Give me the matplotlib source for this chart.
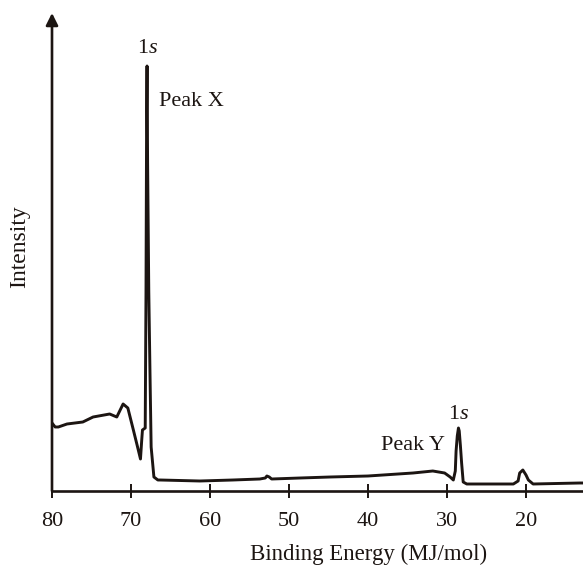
import matplotlib
matplotlib.use("Agg")
import matplotlib.pyplot as plt

plt.rcParams['font.family'] = ['Liberation Serif', 'DejaVu Serif']
plt.rcParams['mathtext.fontset'] = 'custom'
plt.rcParams['mathtext.rm'] = 'Liberation Serif'
plt.rcParams['mathtext.it'] = 'Liberation Serif:italic'

# Binding energy (MJ/mol) and intensity (arbitrary units)
energy = [80, 79.6, 79.2, 78.1, 76.1, 74.8, 72.7, 71.8, 71.0, 70.4, 69.7, 69.2,
          68.8, 68.65, 68.55, 68.2, 68.1, 68.02, 67.97, 67.9, 67.75, 67.6, 67.45,
          67.1, 66.6, 66.3, 61.3, 57.1, 53.7, 53.0, 52.8, 52.5, 52.2, 48.6, 44.8,
          40.0, 34.3, 31.8, 30.3, 29.6, 29.2, 28.95, 28.85, 28.7, 28.55, 28.45,
          28.3, 28.15, 27.95, 27.5, 21.6, 21.0, 20.8, 20.4, 20.0, 19.7, 19.1,
          13.2, 12.8]
intensity = [68, 64, 64, 67, 69, 74, 77, 74, 87, 83, 61, 45,
             32, 50, 61, 63, 200, 380, 425, 330, 200, 120, 44,
             14, 11, 11, 10, 11, 12, 13, 15, 14, 12, 13, 14,
             15, 18, 20, 18, 14, 11, 20, 40, 55, 63, 60,
             45, 28, 9, 7, 7, 10, 18, 21, 16, 11, 7,
             8, 8]
xticks = [80, 70, 60, 50, 40, 30, 20]

ink = '#1c1512'
fig = plt.figure(figsize=(5.83, 5.65), dpi=100)
ax = fig.add_axes([52/583, 1 - 491/565, 1 - 52/583, 478/565])
ax.plot(energy, intensity, color=ink, lw=2.1, solid_joinstyle='round')
ax.set_xlim(80, 80 - 531/7.9)
ax.set_ylim(0, 478)

for s in ['top', 'right', 'left']:
    ax.spines[s].set_visible(False)
ax.spines['bottom'].set_linewidth(1.9)
ax.spines['bottom'].set_color(ink)
ax.set_yticks([])
ax.set_xticks(xticks)
ax.set_xticklabels([str(t) for t in xticks])
ax.tick_params(axis='x', direction='inout', length=10, width=1.4, colors=ink,
               labelsize=16, pad=10)

ax.annotate('', xy=(0, 1), xytext=(0, 0), xycoords='axes fraction',
            arrowprops=dict(arrowstyle='-|>', lw=1.9, color=ink,
                            mutation_scale=18, shrinkA=0, shrinkB=0))

ax.text(67.85, 438, '1$s$', ha='center', va='baseline', fontsize=16, color=ink)
ax.text(66.46, 385, 'Peak X', ha='left', va='baseline', fontsize=16, color=ink)
ax.text(30.25, 41, 'Peak Y', ha='right', va='baseline', fontsize=16, color=ink)
ax.text(28.6, 72, '1$s$', ha='center', va='baseline', fontsize=16, color=ink)

fig.text(20/583, 1 - 247/565, 'Intensity', rotation=90, ha='center', va='center',
         fontsize=17, color=ink)
fig.text(369/583, 1 - 560/565, 'Binding Energy (MJ/mol)', ha='center',
         va='baseline', fontsize=16.5, color=ink)

fig.savefig('out.png', dpi=100, facecolor='white')
